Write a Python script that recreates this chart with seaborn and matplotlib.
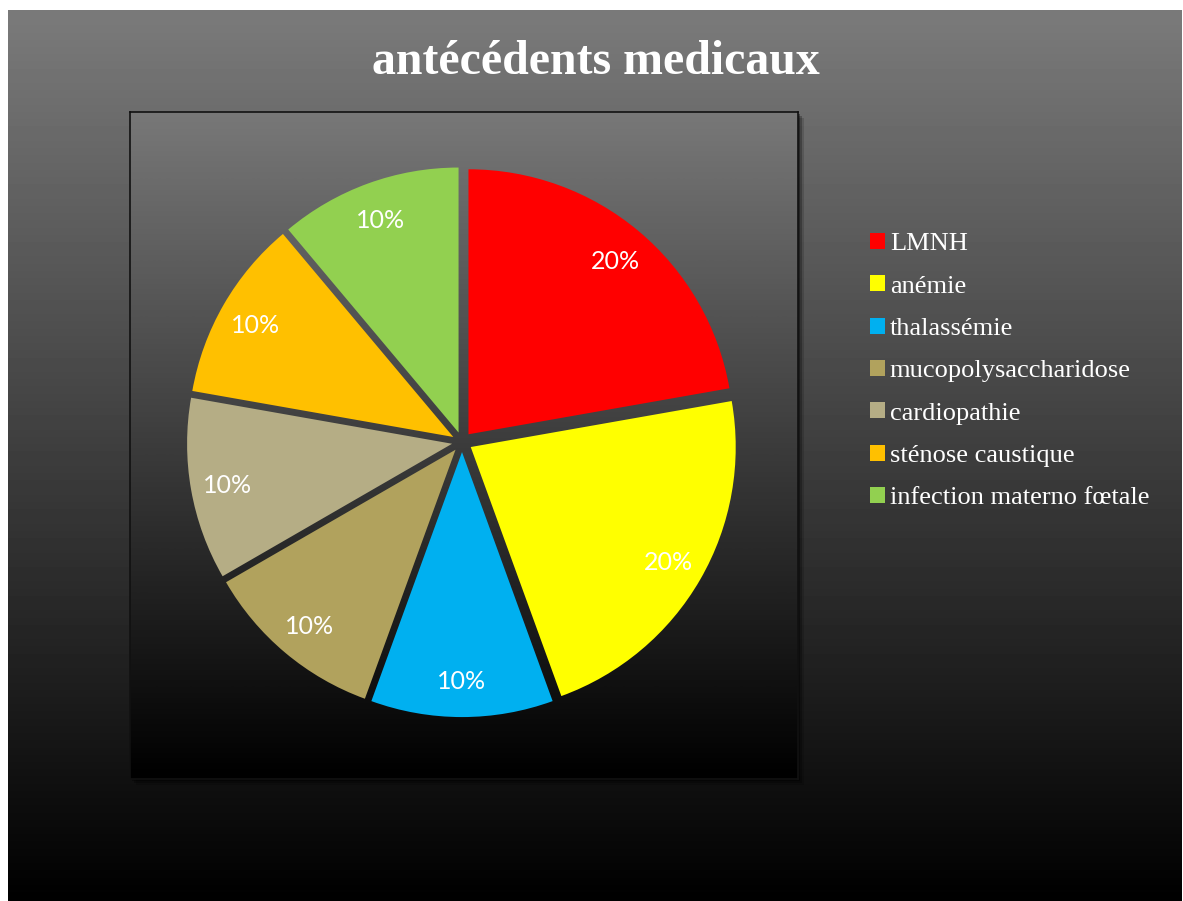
import numpy as np
import matplotlib
matplotlib.use("Agg")
import matplotlib.pyplot as plt
import matplotlib as mpl
import seaborn as sns

# chart data
categories = ['LMNH', 'anémie', 'thalassémie', 'mucopolysaccharidose',
              'cardiopathie', 'sténose caustique', 'infection materno fœtale']
percents = [20, 20, 10, 10, 10, 10, 10]
slice_colors = ['#FF0000', '#FFFF00', '#00B0F0', '#B1A25D',
                '#B5AD85', '#FFC000', '#92D050']
title = 'antécédents medicaux'

sns.set_theme(style='dark')
mpl.rcParams['font.family'] = ['Liberation Serif', 'DejaVu Serif']

W, H = 1183, 901
fig = plt.figure(figsize=(W / 100, H / 100), dpi=100, facecolor='white')


def px_axes(x0, y0, x1, y1):
    # axes from pixel box (top-left origin)
    return fig.add_axes([x0 / W, (H - y1) / H, (x1 - x0) / W, (y1 - y0) / H])


def vgrad(ax, top, bottom):
    g = np.linspace(top, bottom, 256).reshape(-1, 1)
    ax.imshow(g, cmap='gray', vmin=0, vmax=1, aspect='auto',
              extent=[0, 1, 0, 1], interpolation='bicubic')
    ax.set_xlim(0, 1)
    ax.set_ylim(0, 1)


# outer chart background
bg = px_axes(8, 10, 1182, 901)
vgrad(bg, 0.48, 0.0)
bg.set_axis_off()

# soft shadow + plot area
for k, a in [(6, 0.15), (4, 0.25), (2, 0.35)]:
    sh = px_axes(130 + k, 112 + k, 798 + k, 779 + k)
    sh.set_facecolor('black')
    sh.patch.set_alpha(a)
    sh.set_xticks([]); sh.set_yticks([])
    for s in sh.spines.values():
        s.set_visible(False)

pa = px_axes(130, 112, 798, 779)
vgrad(pa, 0.47, 0.0)
pa.set_xticks([]); pa.set_yticks([])
for s in pa.spines.values():
    s.set_color('#111111')
    s.set_linewidth(1.2)

# pie
R = 265
cx, cy = 462, 442
half = R * 1.15
ax = px_axes(cx - half, cy - half, cx + half, cy + half)
total = sum(percents)
palette = sns.color_palette(slice_colors)
wedges, texts, autotexts = ax.pie(
    percents, colors=palette, explode=[0.038] * len(percents),
    startangle=90, counterclock=False,
    autopct=lambda p: f'{p * total / 100:.0f}%', pctdistance=0.86,
    wedgeprops=dict(linewidth=0),
    textprops=dict(color='white', fontsize=18, family=['Lato', 'DejaVu Sans']))
for t in autotexts:
    t.set_va('center_baseline')
ax.set_xlim(-1.15, 1.15)
ax.set_ylim(-1.15, 1.15)
ax.set_aspect('equal')
ax.set_axis_off()

# title
fig.text(596 / W, 1 - 62 / H, title, ha='center', va='center', color='white',
         fontsize=34.5, fontweight='bold')

# legend
handles = [mpl.patches.Patch(facecolor=c, edgecolor='none', label=l)
           for c, l in zip(slice_colors, categories)]
leg = fig.legend(handles=handles, loc='upper left', bbox_to_anchor=(870 / W, 1 - 233 / H),
                 frameon=False, fontsize=19, labelcolor='white',
                 handlelength=0.55, handleheight=0.55, handletextpad=0.2,
                 labelspacing=0.76, borderaxespad=0, borderpad=0)

fig.savefig('out.png', dpi=100, facecolor=fig.get_facecolor())
